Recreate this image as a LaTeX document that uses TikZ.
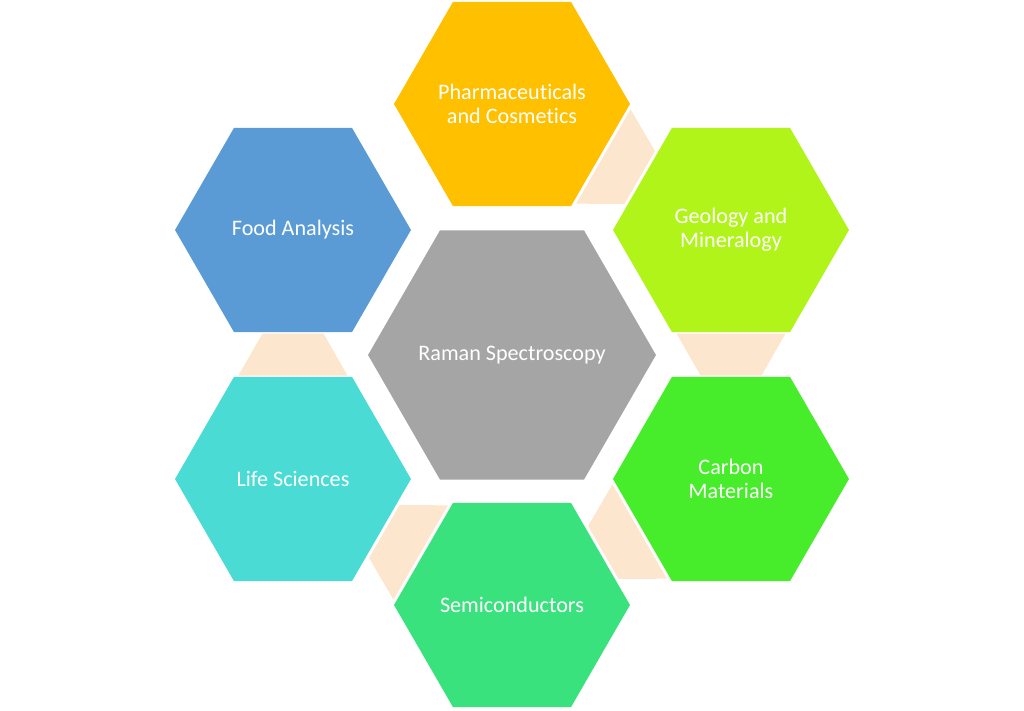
\documentclass[tikz,border=0pt]{standalone}
\usepackage{fontspec}
\setmainfont{Carlito}[RawFeature=-liga]
\usetikzlibrary{shapes.geometric,calc}

\definecolor{ramangray}{HTML}{A5A5A5}
\definecolor{pharmaorange}{HTML}{FFC000}
\definecolor{geolime}{HTML}{B0F41A}
\definecolor{carbongreen}{HTML}{47EC2A}
\definecolor{semigreen}{HTML}{3AE27E}
\definecolor{lifecyan}{HTML}{4ADBD4}
\definecolor{foodblue}{HTML}{5B9BD5}
\definecolor{linkpeach}{HTML}{FDE6CE}

\begin{document}
\begin{tikzpicture}[x=0.02cm, y=0.02cm,
    every node/.style={anchor=center},
    hub/.style={regular polygon, regular polygon sides=6, minimum size=5.76cm, inner sep=-1.2cm, outer sep=0pt, fill=ramangray, text=white, font=\fontsize{12.6}{13.7}\selectfont, align=center},
    field/.style={hub, minimum size=4.72cm},
    link/.style={fill=linkpeach}
    ]

\useasboundingbox (-512,-355) rectangle (512,355);

% Centre
\node[hub] (raman) at (0,0) {Raman Spectroscopy};

% Application fields, clockwise from the top
\node[field, fill=pharmaorange] (pharma) at (0,251) {Pharmaceuticals\\and Cosmetics};
\node[field, fill=geolime] (geology) at (219,125) {Geology and\\Mineralogy};
\node[field, fill=carbongreen] (carbon) at (219,-124) {Carbon\\Materials};
\node[field, fill=semigreen] (semi) at (0,-250) {Semiconductors};
\node[field, fill=lifecyan] (life) at (-219,-124) {Life Sciences};
\node[field, fill=foodblue] (food) at (-219,125) {Food Analysis};

% Links between neighbours (wide side on the first one)
\fill[link, shift={($(pharma)!0.5!(geology)$)}, rotate=240] (-54.5,-21) -- (54.5,-21) -- (30.5,21) -- (-30.5,21) -- cycle;
\fill[link, shift={($(geology)!0.5!(carbon)$)}, rotate=180] (-54.5,-21) -- (54.5,-21) -- (30.5,21) -- (-30.5,21) -- cycle;
\fill[link, shift={($(carbon)!0.5!(semi)$)}, rotate=120] (-54.5,-21) -- (54.5,-21) -- (30.5,21) -- (-30.5,21) -- cycle;
\fill[link, shift={($(semi)!0.5!(life)$)}, rotate=60] (-54.5,-21) -- (54.5,-21) -- (30.5,21) -- (-30.5,21) -- cycle;
\fill[link, shift={($(life)!0.5!(food)$)}] (-54.5,-21) -- (54.5,-21) -- (30.5,21) -- (-30.5,21) -- cycle;

\end{tikzpicture}
\end{document}
